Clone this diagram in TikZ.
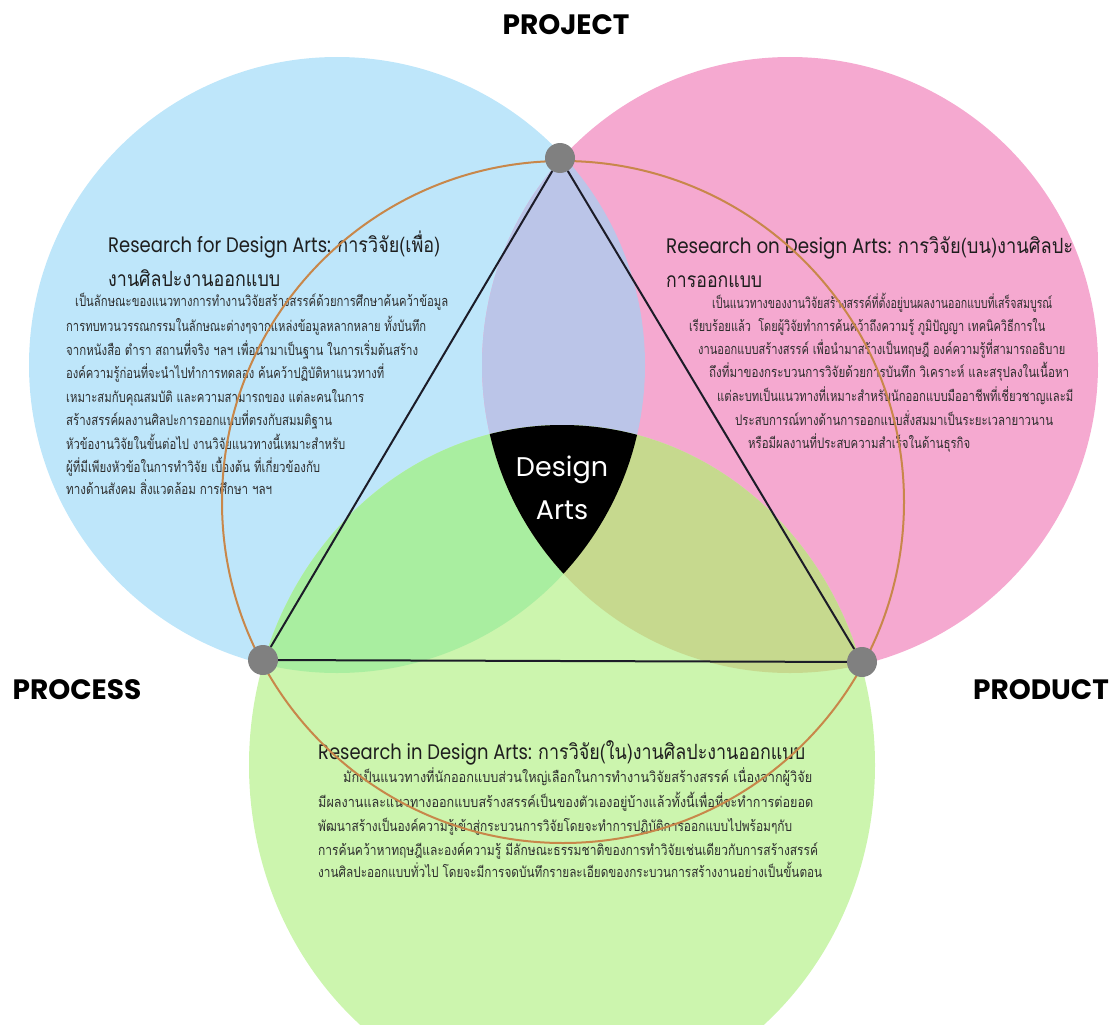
\documentclass[tikz,border=0pt]{standalone}
\usepackage{fontspec}
\usepackage{graphicx}
\newfontfamily\thfont[Script=Thai]{Loma}
\newfontfamily\popfont{Poppins}
\newcommand\fitw[2]{\resizebox{#1pt}{\height}{#2}}
\definecolor{cblue}{HTML}{BEE6FA}
\definecolor{cpink}{HTML}{F5A9D0}
\definecolor{cgreen}{HTML}{CCF5AE}
\definecolor{cbp}{HTML}{BBC5E8}
\definecolor{cbg}{HTML}{A9EEA0}
\definecolor{cpg}{HTML}{C6D98E}
\definecolor{corange}{HTML}{C8874A}
\definecolor{dotgray}{HTML}{808080}
\definecolor{txt}{HTML}{2E2E2E}
\definecolor{htxt}{HTML}{1E1E1E}
\definecolor{tri}{HTML}{1C1C28}
\tikzset{
 body/.style={inner sep=0pt, anchor=base west, text=txt, font=\thfont\fontsize{14.5}{16}\selectfont},
 head/.style={inner sep=0pt, anchor=base west, text=htxt, font=\fontsize{21}{23}\selectfont},
 lab/.style={inner sep=0pt, text=black, font=\popfont\bfseries\fontsize{28}{30}\selectfont},
 dot/.style={circle, fill=dotgray, minimum size=30pt, inner sep=0pt},
 ring/.style={draw=corange, line width=2pt},
 triline/.style={draw=tri, line width=2pt},
}
\begin{document}
\begin{tikzpicture}[x=1pt,y=-1pt]
\useasboundingbox (0,0) rectangle (1119,1025);
\coordinate (cB) at (337,365);
\coordinate (cP) at (790,365);
\coordinate (cG) at (562,765);
\def\gshape{(cG) ellipse[x radius=313pt, y radius=340pt]}
\begin{scope}
\clip (0,0) rectangle (1119,1025);
\fill[cblue] (cB) circle[radius=308pt];
\fill[cpink] (cP) circle[radius=308pt];
\fill[cgreen] \gshape;
\begin{scope}\clip (cB) circle[radius=308pt]; \fill[cbp] (cP) circle[radius=308pt];\end{scope}
\begin{scope}\clip (cB) circle[radius=308pt]; \fill[cbg] \gshape;\end{scope}
\begin{scope}\clip (cP) circle[radius=308pt]; \fill[cpg] \gshape;\end{scope}
\begin{scope}\clip (cB) circle[radius=308pt]; \clip (cP) circle[radius=308pt]; \fill[black] \gshape;\end{scope}
\end{scope}

% labels
\node[lab] (project) at (566,25) {PROJECT};
\node[lab] (process) at (77,690) {PROCESS};
\node[lab] (product) at (1041,690) {PRODUCT};
\node[inner sep=0pt, text=white, align=center, font=\popfont\fontsize{27}{43}\selectfont] (design) at (562,488) {Design\\Arts};

% left block
\node[head] (lh1) at (108,252) {\fitw{332}{{\popfont Research for Design Arts: }{\thfont การวิจัย(เพื่อ)}}};
\node[head] (lh2) at (108,286) {\fitw{172}{\thfont งานศิลปะงานออกแบบ}};
\node[body] (l1) at (75,306) {\fitw{373}{เป็นลักษณะของแนวทางการทำงานวิจัยสร้างสรรค์ด้วยการศึกษาค้นคว้าข้อมูล}};
\node[body] (l2) at (66,331) {\fitw{360}{การทบทวนวรรณกรรมในลักษณะต่างๆจากแหล่งข้อมูลหลากหลาย ทั้งบันทึก}};
\node[body] (l3) at (66,355) {\fitw{352}{จากหนังสือ ตำรา สถานที่จริง ฯลฯ เพื่อนำมาเป็นฐาน ในการเริ่มต้นสร้าง}};
\node[body] (l4) at (66,378) {\fitw{318}{องค์ความรู้ก่อนที่จะนำไปทำการทดลอง ค้นคว้าปฏิบัติหาแนวทางที่}};
\node[body] (l5) at (66,402) {\fitw{298}{เหมาะสมกับคุณสมบัติ และความสามารถของ แต่ละคนในการ}};
\node[body] (l6) at (66,425) {\fitw{266}{สร้างสรรค์ผลงานศิลปะการออกแบบที่ตรงกับสมมติฐาน}};
\node[body] (l7) at (66,449) {\fitw{279}{หัวข้องานวิจัยในขั้นต่อไป งานวิจัยแนวทางนี้เหมาะสำหรับ}};
\node[body] (l8) at (66,472) {\fitw{254}{ผู้ที่มีเพียงหัวข้อในการทำวิจัย เบื้องต้น ที่เกี่ยวข้องกับ}};
\node[body] (l9) at (66,494) {\fitw{206}{ทางด้านสังคม สิ่งแวดล้อม การศึกษา ฯลฯ}};

% right block
\node[head] (rh1) at (666,253) {\fitw{407}{{\popfont Research on Design Arts: }{\thfont การวิจัย(บน)งานศิลปะ}}};
\node[head] (rh2) at (666,287) {\fitw{96}{\thfont การออกแบบ}};
\node[body] (r1) at (712,308) {\fitw{340}{เป็นแนวทางของงานวิจัยสร้างสรรค์ที่ตั้งอยู่บนผลงานออกแบบที่เสร็จสมบูรณ์}};
\node[body] (r2) at (689,331) {\fitw{356}{เรียบร้อยแล้ว\ \ โดยผู้วิจัยทำการค้นคว้าถึงความรู้ ภูมิปัญญา เทคนิควิธีการใน}};
\node[body] (r3) at (698,354) {\fitw{367}{งานออกแบบสร้างสรรค์ เพื่อนำมาสร้างเป็นทฤษฎี องค์ความรู้ที่สามารถอธิบาย}};
\node[body] (r4) at (709,377) {\fitw{360}{ถึงที่มาของกระบวนการวิจัยด้วยการบันทึก วิเคราะห์ และสรุปลงในเนื้อหา}};
\node[body] (r5) at (717,401) {\fitw{356}{แต่ละบทเป็นแนวทางที่เหมาะสำหรับนักออกแบบมืออาชีพที่เชี่ยวชาญและมี}};
\node[body] (r6) at (735,425) {\fitw{318}{ประสบการณ์ทางด้านการออกแบบสั่งสมมาเป็นระยะเวลายาวนาน}};
\node[body] (r7) at (748,448) {\fitw{222}{หรือมีผลงานที่ประสบความสำเร็จในด้านธุรกิจ}};

% bottom block
\node[head] (bh1) at (318,759) {\fitw{487}{{\popfont Research in Design Arts: }{\thfont การวิจัย(ใน)งานศิลปะงานออกแบบ}}};
\node[body] (b1) at (343,782) {\fitw{469}{มักเป็นแนวทางที่นักออกแบบส่วนใหญ่เลือกในการทำงานวิจัยสร้างสรรค์ เนื่องจากผู้วิจัย}};
\node[body] (b2) at (318,807) {\fitw{495}{มีผลงานและแนวทางออกแบบสร้างสรรค์เป็นของตัวเองอยู่บ้างแล้วทั้งนี้เพื่อที่จะทำการต่อยอด}};
\node[body] (b3) at (318,831) {\fitw{474}{พัฒนาสร้างเป็นองค์ความรู้เข้าสู่กระบวนการวิจัยโดยจะทำการปฏิบัติการออกแบบไปพร้อมๆกับ}};
\node[body] (b4) at (318,855) {\fitw{500}{การค้นคว้าหาทฤษฎีและองค์ความรู้ มีลักษณะธรรมชาติของการทำวิจัยเช่นเดียวกับการสร้างสรรค์}};
\node[body] (b5) at (318,877) {\fitw{504}{งานศิลปะออกแบบทั่วไป โดยจะมีการจดบันทึกรายละเอียดของกระบวนการสร้างงานอย่างเป็นขั้นตอน}};

% orange ring, dots, triangle
\coordinate (cR) at (563,502);
\draw[ring] (cR) circle[radius=341pt];
\node[dot] (top) at (560,158) {};
\node[dot] (lft) at (263,660) {};
\node[dot] (rgt) at (862,662) {};
\draw[triline] (top) -- (lft);
\draw[triline] (top) -- (rgt);
\draw[triline] (lft) -- (rgt);
\end{tikzpicture}
\end{document}
